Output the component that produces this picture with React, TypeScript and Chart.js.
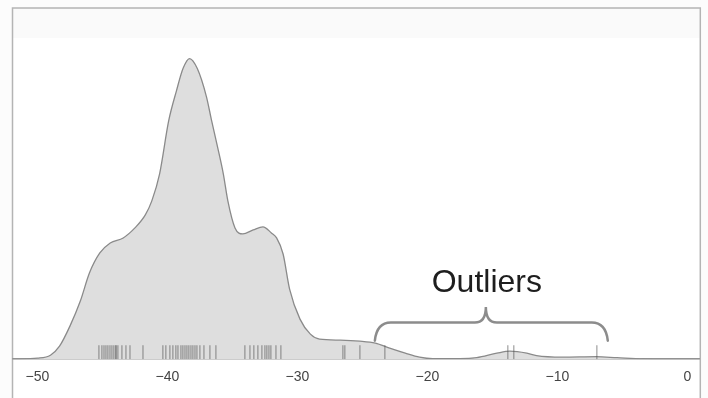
import React, { useEffect, useRef } from "react";
import { Chart, registerables } from "chart.js";

Chart.register(...registerables);

// Density curve (x value, density height in arbitrary units)
const densityX = [
  -51.9, -50.0, -49.0, -48.3, -47.5, -46.7, -46.0, -45.2, -44.4, -43.4, -42.5,
  -41.7, -41.2, -40.6, -39.9, -39.3, -38.8, -38.3, -37.7, -37.0, -36.6, -36.2,
  -35.7, -35.35, -34.8, -34.2, -33.4, -32.65, -32.0, -31.6, -31.1, -30.6, -29.8,
  -29.0, -28.3, -26.7, -25.2, -24.0, -22.9, -21.7, -20.6, -19.6, -17.5, -16.2,
  -14.65, -13.65, -12.35, -11.6, -9.6, -7.0, -5.4, -3.4, -2.1, 0.96,
];
const densityY = [
  0, 1, 4, 13, 33, 58, 86, 106, 116, 121, 131,
  144, 158, 185, 238, 268, 290, 300, 290, 262, 238, 215,
  185, 158, 131, 125, 129, 132, 126, 121, 105, 70, 40,
  25, 20, 19, 18, 16, 11, 6, 2, 0.5, 0.5, 1.5,
  6, 8, 6, 3.5, 2, 2.5, 1.5, 0.3, 0, 0,
];

// Rug marks (individual observations)
const rugValues = [
  -45.27, -45.04, -44.88, -44.73, -44.58, -44.42, -44.27, -44.12, -43.96, -43.96,
  -43.81, -43.5, -43.19, -42.88, -41.88,
  -40.35, -40.12, -39.81, -39.58, -39.35, -39.19, -38.96, -38.81, -38.65, -38.5,
  -38.35, -38.19, -38.04, -37.88, -37.73, -37.5, -37.19, -36.73, -36.27,
  -34.04, -33.65, -33.35, -33.04, -32.73, -32.5, -32.35, -32.19, -32.04, -31.65,
  -31.27,
  -26.5, -26.35, -25.19, -23.27,
  -13.81, -13.35, -6.96,
];

const xTicks = [-50, -40, -30, -20, -10, 0];

// Annotation: outlier bracket (x in data units, y in density units)
const braceLeft = -24.04;
const braceRight = -6.12;
const braceTip = -15.5;
const braceEndY = 18.5;
const braceBarY = 36.5;
const braceTipY = 52;
const annotationText = "Outliers";
const annotationY = 67;

const X_MIN = -51.88;
const X_MAX = 0.96;
const Y_MAX = 320.5;

const framePlugin = {
  id: "frame",
  beforeDraw(chart: any) {
    const { ctx, chartArea } = chart;
    ctx.save();
    ctx.fillStyle = "#fcfcfc";
    ctx.fillRect(0, 0, chart.width, chart.height);
    ctx.fillStyle = "#ffffff";
    ctx.fillRect(chartArea.left, 8, chartArea.right - chartArea.left, chart.height);
    ctx.fillStyle = "#fafafa";
    ctx.fillRect(chartArea.left, 8, chartArea.right - chartArea.left, chartArea.top - 8);
    ctx.strokeStyle = "#b4b4b4";
    ctx.lineWidth = 1.5;
    ctx.beginPath();
    ctx.moveTo(chartArea.left - 0.5, chart.height + 2);
    ctx.lineTo(chartArea.left - 0.5, 8);
    ctx.lineTo(chartArea.right + 0.5, 8);
    ctx.lineTo(chartArea.right + 0.5, chart.height + 2);
    ctx.stroke();
    ctx.restore();
  },
};

const bracePlugin = {
  id: "brace",
  afterDraw(chart: any) {
    const { ctx } = chart;
    const xs = chart.scales.x;
    const ys = chart.scales.y;
    const xL = xs.getPixelForValue(braceLeft);
    const xR = xs.getPixelForValue(braceRight);
    const xT = xs.getPixelForValue(braceTip);
    const yE = ys.getPixelForValue(braceEndY);
    const yB = ys.getPixelForValue(braceBarY);
    const yT = ys.getPixelForValue(braceTipY);
    ctx.save();
    ctx.strokeStyle = "#8c8c8c";
    ctx.lineWidth = 2.5;
    ctx.lineCap = "round";
    ctx.beginPath();
    ctx.moveTo(xL, yE);
    ctx.quadraticCurveTo(xL + 2, yB, xL + 16, yB);
    ctx.lineTo(xT - 11, yB);
    ctx.quadraticCurveTo(xT, yB, xT, yT);
    ctx.quadraticCurveTo(xT, yB, xT + 11, yB);
    ctx.lineTo(xR - 16, yB);
    ctx.quadraticCurveTo(xR - 2, yB, xR, yE);
    ctx.stroke();
    ctx.fillStyle = "#1e1e1e";
    ctx.font = '32px "Liberation Sans", Arial, sans-serif';
    ctx.textAlign = "center";
    ctx.textBaseline = "alphabetic";
    ctx.fillText(annotationText, xT + 1, ys.getPixelForValue(annotationY));
    ctx.restore();
  },
};

export default function App() {
  const ref = useRef<HTMLCanvasElement | null>(null);
  useEffect(() => {
    if (!ref.current) return;
    const densityData = densityX.map((x, i) => ({ x, y: densityY[i] }));
    const rugData = rugValues.map((x) => ({ x, y: 7 }));
    const chart = new Chart(ref.current, {
      type: "line",
      data: {
        datasets: [
          {
            label: "rug",
            data: rugData,
            showLine: false,
            pointStyle: "line",
            rotation: 90,
            pointRadius: 7,
            pointHoverRadius: 7,
            pointBorderWidth: 1.2,
            borderColor: "rgba(80,80,80,0.55)",
            backgroundColor: "rgba(80,80,80,0.55)",
          } as any,
          {
            label: "density",
            data: densityData,
            fill: "origin",
            backgroundColor: "#dedede",
            borderColor: "#8a8a8a",
            borderWidth: 1.3,
            pointRadius: 0,
            cubicInterpolationMode: "monotone",
          } as any,
        ],
      },
      options: {
        animation: false,
        responsive: false,
        events: [],
        layout: { padding: { left: 13, right: 8, top: 38, bottom: 2 } },
        plugins: { legend: { display: false }, tooltip: { enabled: false } },
        scales: {
          x: {
            type: "linear",
            min: X_MIN,
            max: X_MAX,
            afterBuildTicks: (scale: any) => {
              scale.ticks = xTicks.map((v) => ({ value: v }));
            },
            grid: { display: false, drawTicks: false },
            border: { display: true, color: "#9a9a9a", width: 1.5 },
            ticks: {
              padding: 10,
              color: "#444",
              font: { family: '"Liberation Sans", Arial, sans-serif', size: 14 },
              callback: (v: any) => (Number(v) < 0 ? "\u2212" + Math.abs(Number(v)) : String(v)),
            },
          },
          y: { display: false, min: 0, max: Y_MAX },
        },
      },
      plugins: [framePlugin, bracePlugin],
    });
    return () => chart.destroy();
  }, []);
  return (
    <div style={{ position: "absolute", left: 0, top: 0, width: 708, height: 398 }}>
      <canvas ref={ref} width={708} height={398} />
    </div>
  );
}
